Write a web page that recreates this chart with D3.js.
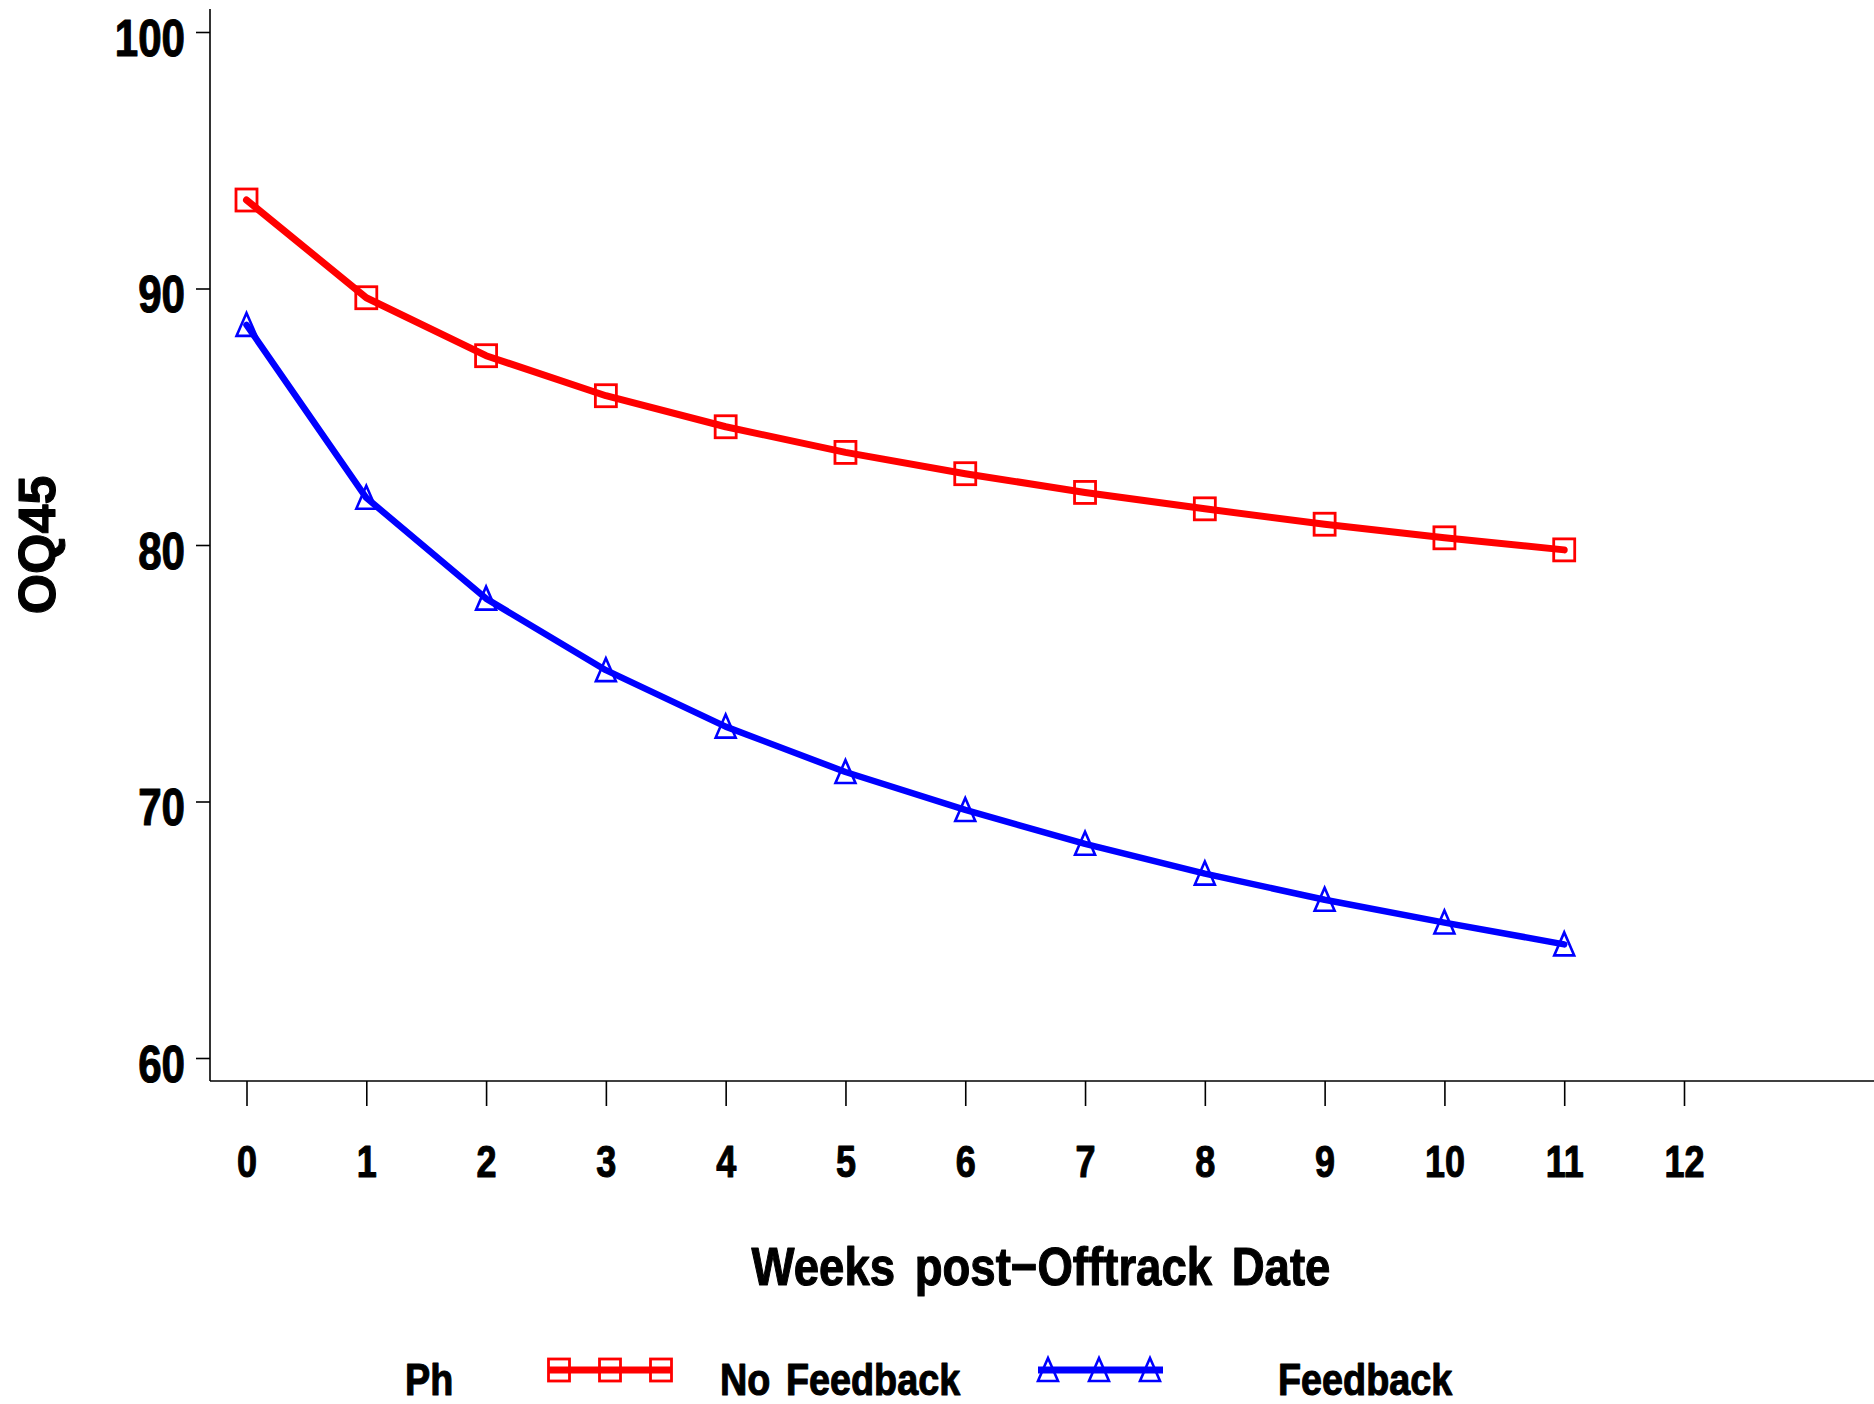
<!DOCTYPE html>
<html>
<head>
<meta charset="utf-8">
<script src="https://cdn.jsdelivr.net/npm/d3@7"></script>
<style>
  html, body { margin: 0; padding: 0; background: #fff; }
  svg { display: block; }
  text { font-family: "Liberation Sans", Arial, sans-serif; font-weight: bold; fill: #000;
         stroke: #000; stroke-width: 1.1px; stroke-linejoin: round; }
</style>
</head>
<body>
<svg id="chart" width="1874" height="1404"></svg>
<script>
// Mean OQ45 score by week after the off-track date
const weeks = [0, 1, 2, 3, 4, 5, 6, 7, 8, 9, 10, 11];
const noFeedback = [93.45, 89.64, 87.38, 85.82, 84.61, 83.61, 82.78, 82.05, 81.41, 80.81, 80.28, 79.81];
const feedback = [88.58, 81.84, 77.91, 75.12, 72.92, 71.15, 69.67, 68.35, 67.19, 66.17, 65.28, 64.43];
const xTicks = [0, 1, 2, 3, 4, 5, 6, 7, 8, 9, 10, 11, 12];
const yTicks = [60, 70, 80, 90, 100];
const seriesNames = ["No Feedback", "Feedback"];
const seriesColors = ["#ff0000", "#0000ff"];

const svg = d3.select("#chart");

const x = d3.scaleLinear().domain([0, 12]).range([246.5, 1684]);
const y = d3.scaleLinear().domain([60, 100]).range([1058, 32]);

const axisX = 210, axisY = 1081;

// condensed bold lettering: squeeze text horizontally around its anchor
function label(px, py, str, size, squeeze, anchor) {
  return svg.append("text")
    .attr("transform", `translate(${px},${py}) scale(${squeeze},1)`)
    .attr("text-anchor", anchor || "start")
    .attr("font-size", size)
    .text(str);
}

// axis lines
svg.append("line").attr("x1", axisX).attr("x2", axisX).attr("y1", 9).attr("y2", axisY)
  .attr("stroke", "#000").attr("stroke-width", 1.6);
svg.append("line").attr("x1", axisX).attr("x2", 1874).attr("y1", axisY).attr("y2", axisY)
  .attr("stroke", "#000").attr("stroke-width", 1.6);

// x axis ticks and labels
const gx = svg.append("g").attr("transform", `translate(0,${axisY})`)
  .call(d3.axisBottom(x).tickValues(xTicks).tickSize(25).tickFormat(d3.format("d")));
gx.attr("font-family", null).attr("font-size", null);
gx.select(".domain").remove();
gx.selectAll(".tick line").attr("stroke", "#000").attr("stroke-width", 1.6);
gx.selectAll(".tick text").attr("font-size", 45).attr("dy", null).attr("y", 96)
  .attr("transform", "scale(0.8,1)").attr("fill", "#000");

// y axis ticks and labels
const ySqueeze = 0.81;
const gy = svg.append("g").attr("transform", `translate(${axisX},0)`)
  .call(d3.axisLeft(y).tickValues(yTicks).tickSize(14).tickFormat(d3.format("d")));
gy.attr("font-family", null).attr("font-size", null);
gy.select(".domain").remove();
gy.selectAll(".tick line").attr("stroke", "#000").attr("stroke-width", 1.6);
gy.selectAll(".tick text").attr("font-size", 52).attr("x", -25 / ySqueeze).attr("dy", "0.45em")
  .attr("transform", `scale(${ySqueeze},1)`).attr("fill", "#000");

// axis titles
svg.append("text").attr("transform", "translate(55,545) rotate(-90)")
  .attr("text-anchor", "middle").attr("font-size", 52).text("OQ45");
label(1041, 1285, "Weeks post\u2212Offtrack Date", 53, 0.86, "middle").attr("word-spacing", 8);

// series lines and markers
const line = d3.line().x((d, i) => x(weeks[i])).y(d => y(d));
const series = [noFeedback, feedback];
const lineWidths = [7, 6.5];

series.forEach((vals, s) => {
  svg.append("path").datum(vals).attr("d", line).attr("fill", "none")
    .attr("stroke", seriesColors[s]).attr("stroke-width", lineWidths[s])
    .attr("stroke-linejoin", "round").attr("stroke-linecap", "round");
});

function drawSquare(g, cx, cy, color) {
  g.append("rect").attr("x", cx - 10.5).attr("y", cy - 11).attr("width", 21).attr("height", 22)
    .attr("fill", "none").attr("stroke", color).attr("stroke-width", 2.8);
}
function drawTriangle(g, cx, cy, color) {
  const h = 22, w = 20;
  g.append("path").attr("d", `M${cx},${cy - h / 2 - 1}L${cx + w / 2},${cy + h / 2}L${cx - w / 2},${cy + h / 2}Z`)
    .attr("fill", "none").attr("stroke", color).attr("stroke-width", 2.6).attr("stroke-linejoin", "miter");
}
const markerFns = [drawSquare, drawTriangle];

series.forEach((vals, s) => {
  const g = svg.append("g");
  vals.forEach((v, i) => markerFns[s](g, x(weeks[i]), y(v), seriesColors[s]));
});

// legend
const legendY = 1370, legendBase = 1395;
label(405, legendBase, "Ph", 45, 0.84);

const legendItems = [
  { x0: 548, x1: 672, marks: [559, 610, 661], textX: 720 },
  { x0: 1038, x1: 1163, marks: [1048, 1099, 1150], textX: 1278 }
];
legendItems.forEach((it, s) => {
  const g = svg.append("g");
  g.append("line").attr("x1", it.x0).attr("x2", it.x1).attr("y1", legendY).attr("y2", legendY)
    .attr("stroke", seriesColors[s]).attr("stroke-width", 7);
  it.marks.forEach(mx => markerFns[s](g, mx, legendY, seriesColors[s]));
  label(it.textX, legendBase, seriesNames[s], 45, 0.84).attr("word-spacing", 6);
});
</script>
</body>
</html>
